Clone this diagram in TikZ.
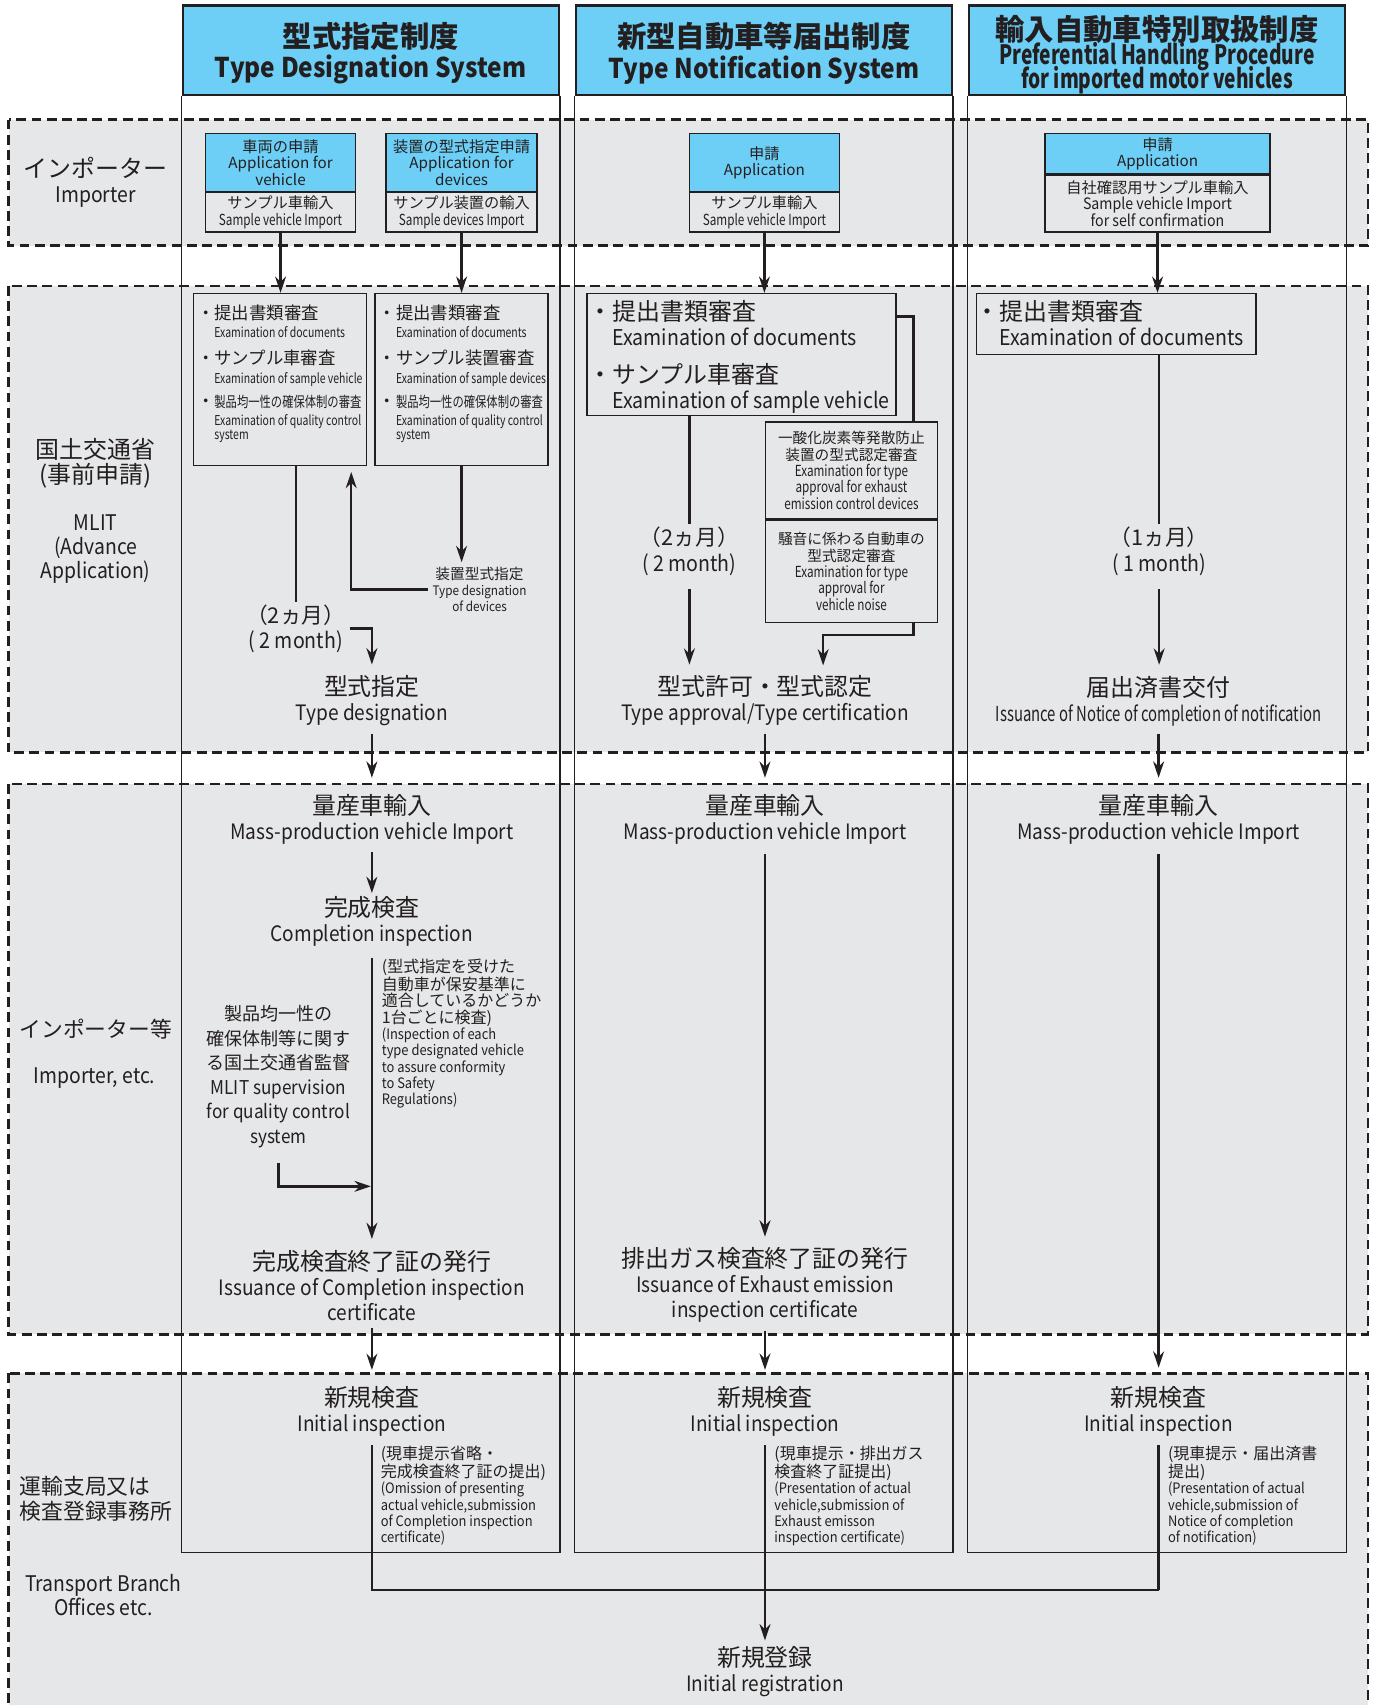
\documentclass[tikz,border=0pt]{standalone}
\usepackage{fontspec}
\setmainfont{Noto Sans CJK JP}
\newfontfamily\en{Noto Sans CJK JP}[FakeStretch=0.9]
\newfontfamily\cond{Noto Sans CJK JP}[FakeStretch=0.77]
\newfontfamily\xcond{Noto Sans CJK JP}[FakeStretch=0.72]
\usepackage{xcolor}
\usepackage{tikz}
\usetikzlibrary{arrows.meta}
\definecolor{ink}{HTML}{231F20}
\definecolor{sky}{HTML}{6DCFF6}
\definecolor{bandgray}{HTML}{E6E7E8}
\newcommand\jpl{\fontsize{22}{23}\rmfamily}
\newcommand\jpn{\fontsize{14.7}{15}\rmfamily}
\tikzset{
  band/.style={draw=ink, fill=bandgray, line width=2.4pt, dash pattern=on 9pt off 5pt},
  colline/.style={draw=ink, line width=1.1pt},
  headbox/.style={draw=ink, fill=sky, line width=2pt, minimum width=346, minimum height=82},
  headtext/.style={align=center, font=\fontsize{25}{28}\en\bfseries},
  apptop/.style={draw=ink, fill=sky, line width=1.3pt, align=center, font=\fontsize{14}{15}\selectfont},
  appbot/.style={draw=ink, fill=bandgray, line width=1.3pt, align=center, anchor=north, font=\fontsize{14}{15}\selectfont},
  exam/.style={draw=ink, line width=1.4pt},
  item/.style={anchor=north west, align=left},
  side/.style={align=center, font=\fontsize{19.8}{22}\en},
  stage/.style={align=center, font=\fontsize{19.5}{23}\en},
  note/.style={anchor=north west, align=left, font=\fontsize{13.2}{15}\en},
  wire/.style={draw=ink, line width=2.2pt},
  flow/.style={wire, -{Stealth[length=15pt,width=10pt]}},
}

\begin{document}
\begin{tikzpicture}[x=1pt, y=-1pt, every node/.style={text=ink, inner sep=0pt}]
  \useasboundingbox (0,0) rectangle (1264,1568);
  \clip (0,0) rectangle (1264,1568);

  % dashed bands
  \foreach \yt/\yb in {110/226, 263/692, 721/1227, 1263/1600}
    \draw[band] (8,\yt) rectangle (1258,\yb);

  % headers and columns
  \node[headbox] (h1) at (341,46) {};
  \node[headtext] (h1t) at (341,49) {{\fontsize{27}{28}\rmfamily\bfseries 型式指定制度}\\Type Designation System};
  \node[headbox] (h2) at (702.5,46) {};
  \node[headtext] (h2t) at (702.5,49) {{\fontsize{27}{28}\rmfamily\bfseries 新型自動車等届出制度}\\Type Notification System};
  \node[headbox] (h3) at (1064,46) {};
  \node[headtext, font=\fontsize{24.5}{23}\xcond\bfseries] (h3t) at (1064,50) {{\fontsize{27}{28}\rmfamily\bfseries 輸入自動車特別取扱制度}\\[-2pt]Preferential Handling Procedure\\[-5pt]for imported motor vehicles};
  \coordinate (cb) at (0,1428);
  \foreach \h in {h1,h2,h3}
    \draw[colline] (\h.south west) -- (\h.south west |- cb) -| (\h.south east);

  % row labels
  \node[side, font=\fontsize{19.8}{23}\en] (s1) at (88,168) {{\fontsize{22}{23}\rmfamily インポーター}\\Importer};
  \node[side, font=\fontsize{22}{23}\rmfamily] (s2) at (88,426) {国土交通省\\(事前申請)};
  \node[side] (s3) at (88,505) {MLIT\\(Advance\\Application)};
  \node[side, font=\fontsize{20}{23}\rmfamily] (s4) at (88,946) {インポーター等};
  \node[side] (s5) at (87,991) {Importer, etc.};
  \node[side, font=\fontsize{20}{23}\rmfamily, anchor=west, align=left] (s6) at (18,1378) {運輸支局又は\\検査登録事務所};
  \node[side] (s7) at (95,1467) {Transport Branch\\Offices etc.};

  % importer: applications
  \node[apptop, minimum width=138, minimum height=53] (a1) at (258,149.5) {車両の申請\\Application for\\vehicle};
  \node[appbot, minimum width=138, minimum height=36] (a1s) at (a1.south) {サンプル車輸入\\{\cond Sample vehicle Import}};
  \node[apptop, minimum width=139, minimum height=53] (a2) at (424.5,149.5) {装置の型式指定申請\\Application for\\devices};
  \node[appbot, minimum width=139, minimum height=36] (a2s) at (a2.south) {サンプル装置の輸入\\{\cond Sample devices Import}};
  \node[apptop, minimum width=138, minimum height=53] (a3) at (703,149.5) {申請\\Application};
  \node[appbot, minimum width=138, minimum height=36] (a3s) at (a3.south) {サンプル車輸入\\{\cond Sample vehicle Import}};
  \node[apptop, minimum width=207, minimum height=37] (a4) at (1064.5,141.5) {申請\\Application};
  \node[appbot, minimum width=207, minimum height=52] (a4s) at (a4.south) {自社確認用サンプル車輸入\\{\fontsize{14.5}{15}\en Sample vehicle Import}\\{\fontsize{14.5}{15}\en for self confirmation}};

  % MLIT: examinations
  \node[exam, minimum width=159, minimum height=158] (e1) at (257.5,349) {};
  \node[item, font=\fontsize{16}{17}\selectfont] (e1a) at (197,280) {\llap{・}提出書類審査\\{\fontsize{12.5}{15}\cond Examination of documents}};
  \node[item, font=\fontsize{16}{17}\selectfont] (e1b) at (197,322) {\llap{・}サンプル車審査\\{\fontsize{12.5}{15}\cond Examination of sample vehicle}};
  \node[item, font=\fontsize{16}{17}\selectfont] (e1c) at (197,363) {\llap{・}{\fontsize{13.5}{15}\cond 製品均一性の確保体制の審査}\\{\fontsize{12.5}{15}\cond Examination of quality control}\\[-4pt]{\fontsize{12.5}{15}\cond system}};
  \node[exam, minimum width=159, minimum height=158] (e2) at (424.5,349) {};
  \node[item, font=\fontsize{16}{17}\selectfont] (e2a) at (364,280) {\llap{・}提出書類審査\\{\fontsize{12.5}{15}\cond Examination of documents}};
  \node[item, font=\fontsize{16}{17}\selectfont] (e2b) at (364,322) {\llap{・}サンプル装置審査\\{\fontsize{12.5}{15}\cond Examination of sample devices}};
  \node[item, font=\fontsize{16}{17}\selectfont] (e2c) at (364,363) {\llap{・}{\fontsize{13.5}{15}\cond 製品均一性の確保体制の審査}\\{\fontsize{12.5}{15}\cond Examination of quality control}\\[-4pt]{\fontsize{12.5}{15}\cond system}};
  \node[stage, font=\fontsize{12}{15}\en] (dev) at (441,542) {{\fontsize{13.5}{15}\rmfamily 装置型式指定}\\Type designation\\of devices};
  \coordinate (e1in) at (323,428);
  \node[stage, font=\fontsize{20}{23}\en] (m1) at (272,578) {{\rmfamily （2ヵ月）}\\( 2 month)};
  \node[stage] (td) at (342,644.5) {{\jpl 型式指定}\\Type designation};

  \node[exam, minimum width=284, minimum height=112] (e3) at (682,326) {};
  \node[item, font=\fontsize{22}{23}\selectfont] (e3a) at (563,276) {\llap{・}提出書類審査\\{\fontsize{20}{23}\en Examination of documents}};
  \node[item, font=\fontsize{22}{23}\selectfont] (e3b) at (563,334) {\llap{・}サンプル車審査\\{\fontsize{20}{23}\en Examination of sample vehicle}};
  \node[exam, align=center, minimum width=158, minimum height=89, font=\fontsize{13.5}{15}\selectfont] (e4a) at (783,432.5) {一酸化炭素等発散防止\\装置の型式認定審査\\{\fontsize{14}{15}\cond Examination for type}\\{\fontsize{14}{15}\cond approval for exhaust}\\{\fontsize{14}{15}\cond emission control devices}};
  \node[exam, anchor=north, align=center, minimum width=158, minimum height=94, font=\fontsize{13.5}{15}\selectfont] (e4b) at (e4a.south) {騒音に係わる自動車の\\型式認定審査\\{\fontsize{14}{15}\cond Examination for type}\\{\fontsize{14}{15}\cond approval for}\\{\fontsize{14}{15}\cond vehicle noise}};
  \coordinate (br1) at (840,291);
  \coordinate (br2) at (840,584);
  \coordinate (ta2) at (757,612);
  \node[stage, font=\fontsize{20}{24}\en] (m2) at (634,507) {{\rmfamily （2ヵ月）}\\( 2 month)};
  \node[stage] (ta) at (703.5,644.5) {{\jpl 型式許可・型式認定}\\Type approval/Type certification};

  \node[exam, minimum width=257, minimum height=56] (e5) at (1026.5,298) {};
  \node[item, font=\fontsize{22}{23}\selectfont] (e5a) at (919,276) {\llap{・}提出書類審査\\{\fontsize{20}{23}\en Examination of documents}};
  \node[stage, font=\fontsize{20}{24}\en] (m3) at (1066,507) {{\rmfamily （1ヵ月）}\\( 1 month)};
  \node[stage] (nc) at (1065.5,644.5) {{\jpl 届出済書交付}\\{\fontsize{19}{23}\xcond Issuance of Notice of completion of notification}};

  % importer etc.
  \node[stage] (mp1) at (342,753.5) {{\jpl 量産車輸入}\\Mass-production vehicle Import};
  \node[stage] (ci) at (342,847.5) {{\jpl 完成検査}\\Completion inspection};
  \node[note] (n1) at (351,882) {{\jpn (型式指定を受けた}\\{\jpn 自動車が保安基準に}\\{\jpn 適合しているかどうか}\\{\jpn 1台ごとに検査)}\\(Inspection of each\\type designated vehicle\\to assure conformity\\to Safety\\Regulations)};
  \node[stage, font=\fontsize{17.5}{22.5}\en] (sup) at (256,990) {{\fontsize{16.6}{22.5}\rmfamily 製品均一性の}\\{\fontsize{16.6}{22.5}\rmfamily 確保体制等に関す}\\{\fontsize{16.6}{22.5}\rmfamily る国土交通省監督}\\MLIT supervision\\for quality control\\system};
  \coordinate (sv) at (342,1091);
  \node[stage] (cc) at (342,1182) {{\jpl 完成検査終了証の発行}\\Issuance of Completion inspection\\certificate};
  \node[stage] (mp2) at (703.5,753.5) {{\jpl 量産車輸入}\\Mass-production vehicle Import};
  \node[stage] (ex) at (703.5,1182) {{\jpl 排出ガス検査終了証の発行}\\Issuance of Exhaust emission\\inspection certificate};
  \node[stage] (mp3) at (1065.5,753.5) {{\jpl 量産車輸入}\\Mass-production vehicle Import};

  % transport branch
  \node[stage] (ni1) at (342,1298) {{\jpl 新規検査}\\Initial inspection};
  \node[note] (n4) at (350,1330) {{\jpn (現車提示省略・}\\{\jpn 完成検査終了証の提出)}\\(Omission of presenting\\actual vehicle,submission\\of Completion inspection\\certificate)};
  \node[stage] (ni2) at (703.5,1298) {{\jpl 新規検査}\\Initial inspection};
  \node[note] (n5) at (712,1330) {{\jpn (現車提示・排出ガス}\\{\jpn 検査終了証提出)}\\(Presentation of actual\\vehicle,submission of\\Exhaust emisson\\inspection certificate)};
  \node[stage] (ni3) at (1065.5,1298) {{\jpl 新規検査}\\Initial inspection};
  \node[note] (n6) at (1074,1330) {{\jpn (現車提示・届出済書}\\{\jpn 提出)}\\(Presentation of actual\\vehicle,submission of\\Notice of completion\\of notification)};
  \coordinate (jn) at (1065.5,1462);
  \node[stage] (reg) at (703.5,1537) {{\jpl 新規登録}\\Initial registration};

  % connectors
  \draw[flow] (a1s.south) -- (a1s.south |- e1.north);
  \draw[flow] (a2s.south) -- (a2s.south |- e2.north);
  \draw[flow] (a3s.south) -- (a3s.south |- e3.north);
  \draw[flow] (a4s.south) -- (a4s.south |- e5.north);

  \draw[wire, shorten >=2pt] (m1.north |- e1.south) -- (m1.north);
  \draw[flow, shorten >=4pt] (e2.south) -- (e2.south |- dev.north);
  \draw[flow, shorten <=4pt, shorten >=6pt] (dev.west) -| (e1in);
  \draw[flow, shorten >=10pt] ([xshift=4pt]m1.east) -| (td.north);
  \draw[flow, shorten <=7pt, shorten >=15pt] (td.south) -- (mp1.north);

  \draw[wire, shorten >=2pt] (m2.north |- e3.south) -- (m2.north);
  \draw[flow, shorten <=12pt, shorten >=10pt] (m2.south) -- (m2.south |- ta.north);
  \draw[wire] (e3.east |- br1) -- (br1) -- (br1 |- e4a.north);
  \draw[flow] (br2 |- e4b.south) -- (br2) -| (ta2);
  \draw[flow, shorten <=7pt, shorten >=15pt] (ta.south) -- (mp2.north);

  \draw[wire, shorten >=2pt] (m3.north |- e5.south) -- (m3.north);
  \draw[flow, shorten <=12pt, shorten >=10pt] (m3.south) -- (m3.south |- nc.north);
  \draw[flow, shorten <=7pt, shorten >=15pt] (nc.south) -- (mp3.north);

  \draw[flow, shorten <=7pt, shorten >=3pt] (mp1.south) -- (ci.north);
  \draw[flow, shorten <=10pt, shorten >=10pt] (ci.south) -- (cc.north);
  \draw[flow, shorten <=14pt, shorten >=1pt] (sup.south) -- (sup.south |- sv) -- (sv);
  \draw[flow, shorten <=7pt, shorten >=15pt] (cc.south) -- (ni1.north);
  \draw[flow, shorten <=9pt, shorten >=10pt] (mp2.south) -- (ex.north);
  \draw[flow, shorten <=7pt, shorten >=15pt] (ex.south) -- (ni2.north);
  \draw[flow, shorten <=9pt, shorten >=17pt] (mp3.south) -- (ni3.north);

  \draw[wire, shorten <=8pt] (ni1.south) -- (ni1.south |- jn) -- (jn);
  \draw[wire, shorten <=8pt] (ni3.south) -- (jn);
  \draw[flow, shorten <=8pt, shorten >=5pt] (ni2.south) -- (reg.north);
\end{tikzpicture}
\end{document}
